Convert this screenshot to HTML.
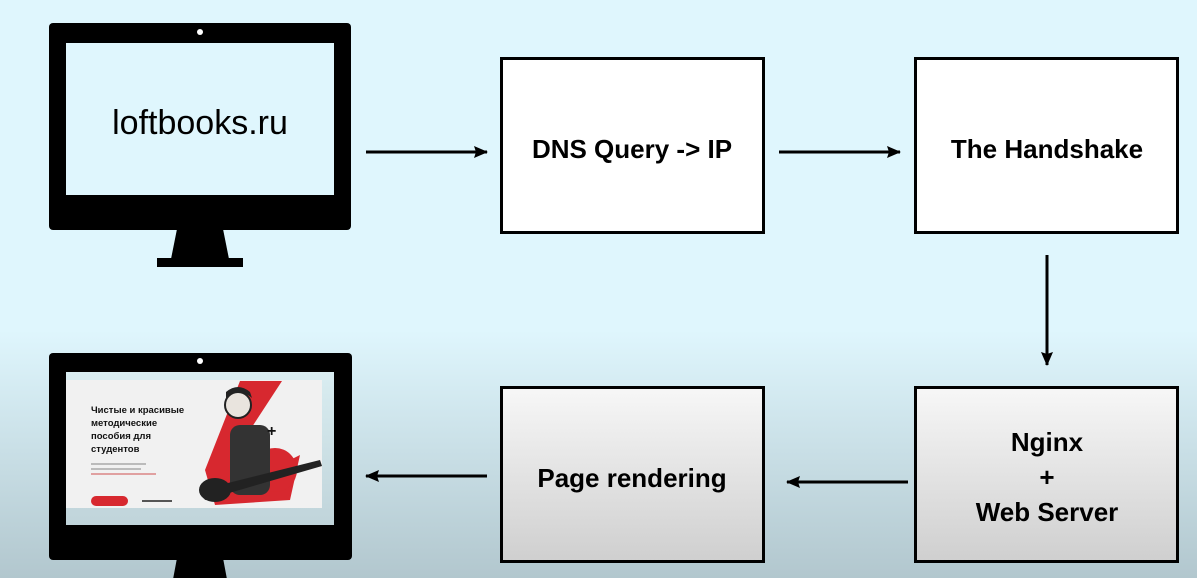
<!DOCTYPE html>
<html><head><meta charset="utf-8"><style>
html,body{margin:0;padding:0;width:1197px;height:578px;overflow:hidden}
body{background:linear-gradient(#dff6fd 0px,#dff6fd 330px,#b2c7ce 578px);font-family:"Liberation Sans",sans-serif}
</style></head><body>
<svg width="1197" height="578" viewBox="0 0 1197 578" xmlns="http://www.w3.org/2000/svg">
<defs>
<linearGradient id="bg2" x1="0" y1="0" x2="0" y2="1"><stop offset="0" stop-color="#f7f7f7"/><stop offset="1" stop-color="#cfcfcf"/></linearGradient>
<linearGradient id="scr" x1="0" y1="0" x2="0" y2="1"><stop offset="0" stop-color="#d9edf1"/><stop offset="1" stop-color="#c0d4da"/></linearGradient>
<marker id="ah" markerWidth="14" markerHeight="12" refX="13" refY="6" orient="auto" markerUnits="userSpaceOnUse"><path d="M0,0 L14,6 L0,12 L2,6 Z" fill="#000"/></marker>
</defs>
<path d="M177,229 L223,229 L229,259 L171,259 Z" fill="#000"/>
<rect x="157" y="258" width="86" height="9" fill="#000"/>
<rect x="49" y="23" width="302" height="207" rx="4" fill="#000"/>
<rect x="66" y="43" width="268" height="152" fill="#dff6fd"/>
<circle cx="200" cy="32" r="3" fill="#fff"/>
<text x="200" y="134" font-size="34" text-anchor="middle" fill="#000">loftbooks.ru</text>
<path d="M177,558 L223,558 L229,590 L171,590 Z" fill="#000"/>
<rect x="49" y="353" width="303" height="207" rx="4" fill="#000"/>
<rect x="66" y="372" width="268" height="153" fill="url(#scr)"/>
<rect x="66" y="380" width="256" height="128" fill="#f1f1f1"/>
<circle cx="200" cy="361" r="3" fill="#fff"/>
<path d="M240,381 L282,381 L250,430 L270,470 L300,455 L290,500 L215,505 L205,470 Z" fill="#d7282f"/>
<circle cx="275" cy="470" r="22" fill="#d7282f"/>
<rect x="230" y="425" width="40" height="70" rx="10" fill="#333"/>
<circle cx="238" cy="405" r="13" fill="#e9e4de" stroke="#222" stroke-width="2"/>
<path d="M226,398 Q238,386 252,398 L250,392 Q238,382 226,392 Z" fill="#222"/>
<path d="M200,490 L320,460 L322,466 L205,500 Z" fill="#222"/>
<ellipse cx="215" cy="490" rx="16" ry="12" fill="#222"/>
<text x="267" y="436" font-size="16" font-weight="bold" fill="#111">+</text>
<text x="91" y="413" font-size="9.5" font-weight="bold" fill="#111">Чистые и красивые</text>
<text x="91" y="426" font-size="9.5" font-weight="bold" fill="#111">методические</text>
<text x="91" y="439" font-size="9.5" font-weight="bold" fill="#111">пособия для</text>
<text x="91" y="452" font-size="9.5" font-weight="bold" fill="#111">студентов</text>
<rect x="91" y="463" width="55" height="2" fill="#bbb"/>
<rect x="91" y="468" width="50" height="2" fill="#bbb"/>
<rect x="91" y="473" width="65" height="2" fill="#e0a0a0"/>
<rect x="91" y="496" width="37" height="10" rx="5" fill="#d7282f"/>
<rect x="142" y="500" width="30" height="2" fill="#555"/>
<rect x="501.5" y="58.5" width="262" height="174" fill="#fff" stroke="#000" stroke-width="3"/>
<text x="632" y="158" font-size="26" font-weight="bold" text-anchor="middle">DNS Query -&gt; IP</text>
<rect x="915.5" y="58.5" width="262" height="174" fill="#fff" stroke="#000" stroke-width="3"/>
<text x="1047" y="158" font-size="26" font-weight="bold" text-anchor="middle">The Handshake</text>
<rect x="915.5" y="387.5" width="262" height="174" fill="url(#bg2)" stroke="#000" stroke-width="3"/>
<text x="1047" y="451" font-size="26" font-weight="bold" text-anchor="middle">Nginx</text>
<text x="1047" y="486" font-size="26" font-weight="bold" text-anchor="middle">+</text>
<text x="1047" y="521" font-size="26" font-weight="bold" text-anchor="middle">Web Server</text>
<rect x="501.5" y="387.5" width="262" height="174" fill="url(#bg2)" stroke="#000" stroke-width="3"/>
<text x="632" y="487" font-size="26" font-weight="bold" text-anchor="middle">Page rendering</text>
<g stroke="#000" stroke-width="3" marker-end="url(#ah)">
<line x1="366" y1="152" x2="487" y2="152"/>
<line x1="779" y1="152" x2="900" y2="152"/>
<line x1="1047" y1="255" x2="1047" y2="365"/>
<line x1="908" y1="482" x2="787" y2="482"/>
<line x1="487" y1="476" x2="366" y2="476"/>
</g>
</svg>
</body></html>
